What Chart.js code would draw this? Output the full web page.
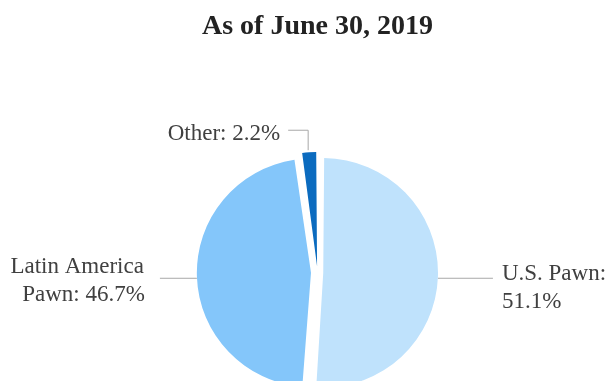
<!DOCTYPE html>
<html>
<head>
<meta charset="utf-8">
<script src="https://cdn.jsdelivr.net/npm/chart.js@4"></script>
<style>
  html, body { margin: 0; padding: 0; background: #fff; }
  #wrap { width: 613px; height: 381px; }
</style>
</head>
<body>
<div id="wrap"><canvas id="myChart" width="613" height="381"></canvas></div>
<script>
var categorias = ['U.S. Pawn', 'Latin America Pawn', 'Other'];
var valores = [51.1, 46.7, 2.2];
var rotulos = [['U.S. Pawn:', '51.1%'], ['Latin America', 'Pawn: 46.7%'], ['Other: 2.2%']];
var cores = ['#bfe2fc', '#84c6fa', '#0b6bbf'];
var titulo = 'As of June 30, 2019';

// linhas de chamada + textos das fatias
var rotulosPlugin = {
  id: 'rotulos',
  afterDraw: function (chart) {
    var ctx = chart.ctx;
    var meta = chart.getDatasetMeta(0);
    ctx.save();
    ctx.strokeStyle = '#a8a8a8';
    ctx.lineWidth = 1;
    ctx.fillStyle = '#404040';
    ctx.font = '23px "Liberation Serif", "Times New Roman", serif';
    ctx.textBaseline = 'alphabetic';

    meta.data.forEach(function (arc, i) {
      var p = arc.getProps(['x', 'y', 'startAngle', 'endAngle', 'outerRadius', 'circumference']);
      var off = (arc.options.offset || 0) / 4;
      var fix = 1 - Math.sin(Math.min(Math.PI, p.circumference));
      var desloc = off * (1 + fix);
      var meio = (p.startAngle + p.endAngle) / 2;
      var cx = p.x + Math.cos(meio) * desloc;
      var cy = p.y + Math.sin(meio) * desloc;
      var ex = cx + Math.cos(meio) * p.outerRadius;
      var ey = cy + Math.sin(meio) * p.outerRadius;
      var linhas = rotulos[i];

      ctx.beginPath();
      if (i === 0) {
        ctx.moveTo(ex, ey + 1.5);
        ctx.lineTo(ex + 55, ey + 1.5);
        ctx.stroke();
        ctx.textAlign = 'left';
        ctx.fillText(linhas[0], ex + 64, ey + 3);
        ctx.fillText(linhas[1], ex + 64, ey + 31);
      } else if (i === 1) {
        ctx.moveTo(ex, ey + 1.5);
        ctx.lineTo(ex - 37, ey + 1.5);
        ctx.stroke();
        ctx.textAlign = 'right';
        ctx.fillText(linhas[0], ex - 53, ey - 4);
        ctx.fillText(linhas[1], ex - 52, ey + 24);
      } else {
        ctx.moveTo(ex - 1, ey - 2);
        ctx.lineTo(ex - 1, ey - 22);
        ctx.lineTo(ex - 21, ey - 22);
        ctx.stroke();
        ctx.textAlign = 'right';
        ctx.fillText(linhas[0], ex - 29, ey - 12);
      }
    });
    ctx.restore();
  }
};

var ctx = document.getElementById('myChart');
var chart = new Chart(ctx, {
  type: 'pie',
  data: {
    labels: categorias,
    datasets: [{
      data: valores,
      backgroundColor: cores,
      borderWidth: 0,
      offset: [23, 26, 25],
      radius: 109
    }]
  },
  options: {
    responsive: false,
    animation: false,
    layout: {
      padding: { top: 0, left: 22, right: 0, bottom: 0 }
    },
    plugins: {
      legend: { display: false },
      tooltip: { enabled: false },
      title: {
        display: true,
        text: titulo,
        color: '#222',
        font: { family: '"Liberation Serif", "Times New Roman", serif', size: 28, weight: 'bold' },
        padding: { top: 10, bottom: 120.6 }
      }
    }
  },
  plugins: [rotulosPlugin]
});
</script>
</body>
</html>
